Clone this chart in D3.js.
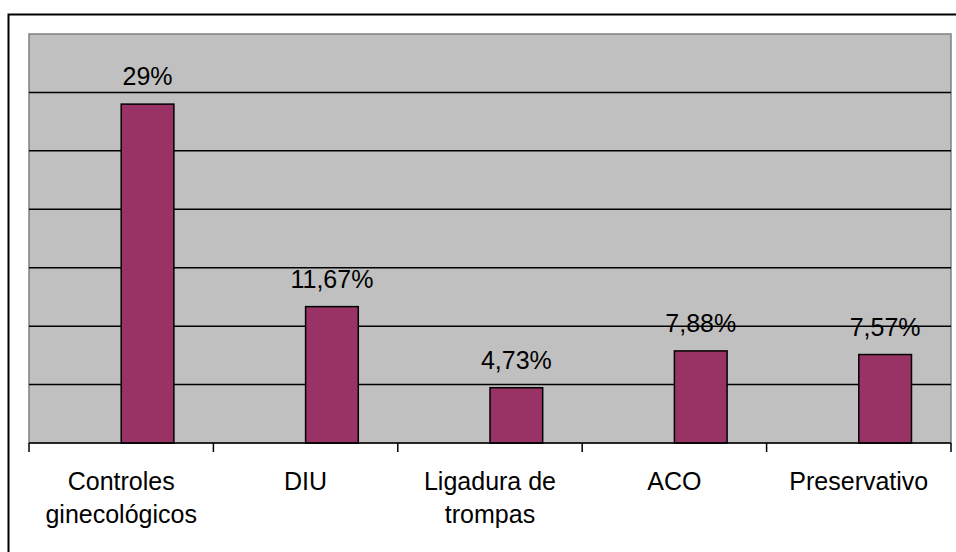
<!DOCTYPE html>
<html>
<head>
<meta charset="utf-8">
<script src="https://cdn.jsdelivr.net/npm/d3@7"></script>
<style>
  html, body { margin: 0; padding: 0; background: #fff; overflow: hidden; }
  svg { display: block; }
  text { font-family: "Liberation Sans", Arial, sans-serif; fill: #000; }
</style>
</head>
<body>
<svg width="956" height="552"></svg>
<script>
// chart data
var categories = [["Controles", "ginecológicos"], ["DIU"], ["Ligadura de", "trompas"], ["ACO"], ["Preservativo"]];
var values = [29, 11.67, 4.73, 7.88, 7.57];
var valueLabels = ["29%", "11,67%", "4,73%", "7,88%", "7,57%"];
var yTicks = [0, 5, 10, 15, 20, 25, 30, 35];

var width = 956, height = 552;
var plot = { left: 29, top: 34, right: 951, bottom: 443 };

var svg = d3.select("svg");

// outer frame (runs off the right and bottom edge)
svg.append("rect")
  .attr("x", 8.5).attr("y", 14.5)
  .attr("width", width + 20).attr("height", height + 20)
  .attr("fill", "#fff")
  .attr("stroke", "#000")
  .attr("stroke-width", 2);

var keys = categories.map(function(d, i) { return i; });

var x = d3.scaleBand()
  .domain(keys)
  .range([plot.left, plot.right])
  .padding(0);

// two slots per category, only the second one holds a bar
var xInner = d3.scaleBand()
  .domain(["a", "b"])
  .range([0, x.bandwidth()])
  .paddingInner(0)
  .paddingOuter(0.75);

var y = d3.scaleLinear()
  .domain([0, 35])
  .range([plot.bottom, plot.top]);

// plot area
svg.append("rect")
  .attr("x", plot.left).attr("y", plot.top)
  .attr("width", plot.right - plot.left)
  .attr("height", plot.bottom - plot.top)
  .attr("fill", "#c0c0c0")
  .attr("stroke", "#808080")
  .attr("stroke-width", 1.5);

// gridlines
svg.append("g")
  .selectAll("line")
  .data(yTicks.filter(function(t) { return t > 0 && t < 35; }))
  .join("line")
  .attr("x1", plot.left).attr("x2", plot.right)
  .attr("y1", function(d) { return y(d); })
  .attr("y2", function(d) { return y(d); })
  .attr("stroke", "#000")
  .attr("stroke-width", 1.5);

// bars
svg.append("g")
  .selectAll("rect")
  .data(values)
  .join("rect")
  .attr("x", function(d, i) { return x(i) + xInner("b"); })
  .attr("y", function(d) { return y(d); })
  .attr("width", xInner.bandwidth())
  .attr("height", function(d) { return y(0) - y(d); })
  .attr("fill", "#993366")
  .attr("stroke", "#000")
  .attr("stroke-width", 1.5);

// value labels
svg.append("g")
  .selectAll("text")
  .data(values)
  .join("text")
  .attr("x", function(d, i) { return x(i) + xInner("b") + xInner.bandwidth() / 2; })
  .attr("y", function(d) { return y(d) - 19; })
  .attr("text-anchor", "middle")
  .attr("font-size", 25)
  .text(function(d, i) { return valueLabels[i]; });

// x axis line and boundary ticks
svg.append("line")
  .attr("x1", plot.left).attr("x2", plot.right)
  .attr("y1", plot.bottom).attr("y2", plot.bottom)
  .attr("stroke", "#000")
  .attr("stroke-width", 1.5);

var bounds = keys.map(function(k) { return x(k); }).concat([plot.right]);
svg.append("g")
  .selectAll("line")
  .data(bounds)
  .join("line")
  .attr("x1", function(d) { return d; }).attr("x2", function(d) { return d; })
  .attr("y1", plot.bottom).attr("y2", plot.bottom + 9)
  .attr("stroke", "#000")
  .attr("stroke-width", 1.5);

// category labels
var cat = svg.append("g")
  .selectAll("text")
  .data(categories)
  .join("text")
  .attr("text-anchor", "middle")
  .attr("font-size", 25)
  .attr("transform", function(d, i) { return "translate(" + (x(i) + x.bandwidth() / 2) + ",490)"; });

cat.selectAll("tspan")
  .data(function(d) { return d; })
  .join("tspan")
  .attr("x", 0)
  .attr("y", function(d, j) { return j * 33; })
  .text(function(d) { return d; });
</script>
</body>
</html>
